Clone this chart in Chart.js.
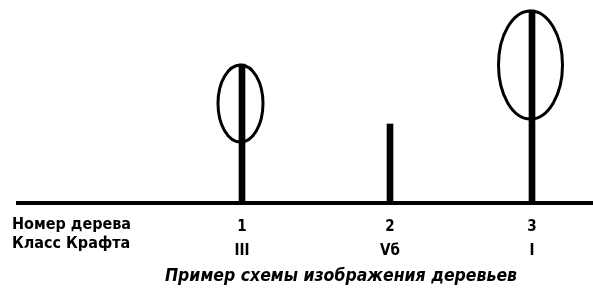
<!DOCTYPE html>
<html>
<head>
<meta charset="utf-8">
<script src="https://cdn.jsdelivr.net/npm/chart.js@4/dist/chart.umd.min.js"></script>
<style>
  body { margin: 0; background: #fff; }
  #wrap { width: 593px; height: 294px; position: relative; }
</style>
</head>
<body>
<div id="wrap"><canvas id="treeChart"></canvas></div>
<script>
// scheme units: 1 unit ~ 10 px on the picture
const treeNumbers = ['1', '2', '3'];
const kraftClasses = ['III', 'Vб', 'I'];
const treeX = [22.4, 37.2, 51.4];
const treeHeight = [13.9, 7.9, 19.3];
const crownBase = [6.2, null, 8.5];
const crownWidth = [4.5, null, 6.4];
const rowTitles = ['Номер дерева', 'Класс Крафта'];
const caption = 'Пример схемы изображения деревьев';

const FONT = '"DejaVu Sans Condensed", "DejaVu Sans", sans-serif';

// crowns are drawn as ellipses over the trunk, placed with the chart scales
const crownPlugin = {
  id: 'crowns',
  afterDatasetsDraw(chart) {
    const xs = chart.scales.x, ys = chart.scales.y;
    const ctx = chart.ctx;
    ctx.save();
    ctx.strokeStyle = '#000';
    ctx.lineWidth = 3;
    treeX.forEach((x, i) => {
      if (crownBase[i] == null) return;
      const cx = xs.getPixelForValue(x);
      const rx = xs.getPixelForValue(x + crownWidth[i] / 2) - cx;
      const top = ys.getPixelForValue(treeHeight[i]);
      const bottom = ys.getPixelForValue(crownBase[i]);
      ctx.beginPath();
      ctx.ellipse(cx - 1.5, (top + bottom) / 2 + 1, rx, (bottom - top) / 2, 0, 0, Math.PI * 2);
      ctx.stroke();
    });
    ctx.restore();
  },
  afterDraw(chart) {
    const ctx = chart.ctx;
    const xs = chart.scales.x;
    ctx.save();
    ctx.fillStyle = '#000';
    ctx.textBaseline = 'middle';
    ctx.textAlign = 'left';
    ctx.font = 'bold 16px ' + FONT;
    ctx.fillText(rowTitles[0], 12, xs.top + 22);
    ctx.fillText(rowTitles[1], 12, xs.top + 41);
    ctx.font = 'italic bold 17.5px ' + FONT;
    ctx.textAlign = 'center';
    ctx.fillText(caption, 341, xs.top + 73);
    ctx.restore();
  }
};

new Chart(document.getElementById('treeChart'), {
  type: 'bar',
  data: {
    datasets: [{
      label: 'Ствол',
      data: treeX.map((x, i) => ({ x: x, y: treeHeight[i] })),
      backgroundColor: '#000',
      borderWidth: 0,
      barThickness: 6
    }]
  },
  options: {
    responsive: true,
    maintainAspectRatio: false,
    animation: false,
    layout: { padding: { left: 18, top: 3, right: 0, bottom: 0 } },
    plugins: {
      legend: { display: false },
      tooltip: { enabled: false }
    },
    scales: {
      x: {
        type: 'linear',
        offset: false,
        min: 0,
        max: 57.5,
        grid: { display: false, drawTicks: false, offset: false },
        border: { display: true, color: '#000', width: 4 },
        afterBuildTicks: scale => {
          scale.ticks = treeX.map(v => ({ value: v }));
        },
        afterFit: scale => { scale.height = 91; },
        ticks: {
          color: '#000',
          padding: 12,
          maxRotation: 0,
          autoSkip: false,
          font: { family: FONT, size: 15, weight: 'bold', lineHeight: 1.6 },
          callback: (value, index) => [treeNumbers[index], kraftClasses[index]]
        }
      },
      y: {
        display: false,
        min: 0,
        max: 20
      }
    }
  },
  plugins: [crownPlugin]
});
</script>
</body>
</html>
